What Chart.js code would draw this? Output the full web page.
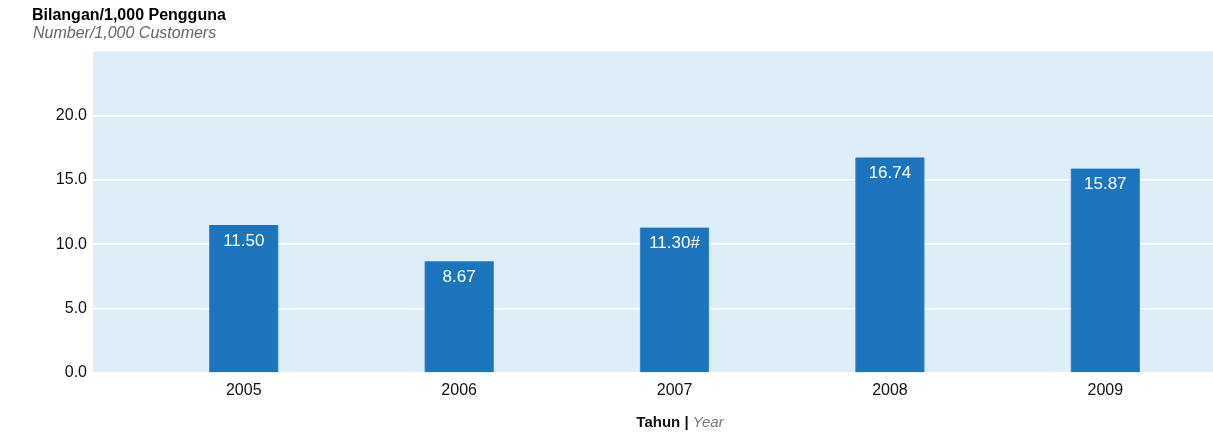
<!DOCTYPE html>
<html>
<head>
<meta charset="utf-8">
<script src="https://cdn.jsdelivr.net/npm/chart.js@4/dist/chart.umd.min.js"></script>
<style>
  html, body { margin: 0; padding: 0; background: #fff; }
  #wrap { width: 1213px; height: 432px; position: relative; }
</style>
</head>
<body>
<div id="wrap"><canvas id="chart"></canvas></div>
<script>
// ── DATA ────────────────────────────────────────────────────────────────
const years  = [2005, 2006, 2007, 2008, 2009];
const values = [11.50, 8.67, 11.30, 16.74, 15.87];
const notes  = ['', '', '#', '', ''];
const yTicks = [0, 5, 10, 15, 20];

const FONT = '"Liberation Sans", Arial, Helvetica, sans-serif';
const BAR  = '#1c75bc';
const BG   = '#ddeef8';

// fondo azul claro del área de trazado
const plotBg = {
  id: 'plotBg',
  beforeDraw(chart) {
    const { ctx, chartArea: a } = chart;
    ctx.save();
    ctx.fillStyle = BG;
    ctx.fillRect(a.left, a.top, a.right - a.left, a.bottom - a.top);
    ctx.restore();
  }
};

// valores dentro de cada barra + títulos
const labelsAndTitles = {
  id: 'labelsAndTitles',
  afterDatasetsDraw(chart) {
    const { ctx } = chart;
    const meta = chart.getDatasetMeta(0);
    ctx.save();
    ctx.fillStyle = '#fff';
    ctx.font = '17px ' + FONT;
    ctx.textAlign = 'center';
    ctx.textBaseline = 'middle';
    meta.data.forEach((bar, i) => {
      ctx.fillText(values[i].toFixed(2) + notes[i], bar.x, bar.y + 16);
    });
    ctx.restore();
  },
  afterDraw(chart) {
    const { ctx } = chart;
    ctx.save();
    ctx.textBaseline = 'middle';
    ctx.textAlign = 'left';
    ctx.fillStyle = '#000';
    ctx.font = 'bold 16px ' + FONT;
    ctx.fillText('Bilangan/1,000 Pengguna', 32, 16);
    ctx.fillStyle = '#666';
    ctx.font = 'italic 16px ' + FONT;
    ctx.fillText('Number/1,000 Customers', 33, 34);

    // título del eje X: "Tahun | Year"
    const cx = 680, cy = 423;
    ctx.font = 'bold 15px ' + FONT;
    const t1 = 'Tahun | ';
    const w1 = ctx.measureText(t1).width;
    ctx.font = 'italic 15px ' + FONT;
    const w2 = ctx.measureText('Year').width;
    const x = cx - (w1 + w2) / 2;
    ctx.fillStyle = '#111';
    ctx.font = 'bold 15px ' + FONT;
    ctx.fillText(t1, x, cy);
    ctx.fillStyle = '#777';
    ctx.font = 'italic 15px ' + FONT;
    ctx.fillText('Year', x + w1, cy);
    ctx.restore();
  }
};

new Chart(document.getElementById('chart'), {
  type: 'bar',
  data: {
    datasets: [{
      data: years.map((y, i) => ({ x: y, y: values[i] })),
      backgroundColor: BAR,
      borderColor: '#4a90cc',
      borderWidth: { left: 1, right: 1, top: 0, bottom: 0 },
      barThickness: 69,
    }]
  },
  options: {
    responsive: true,
    maintainAspectRatio: false,
    animation: false,
    layout: { padding: { left: 33, top: 51, right: 0, bottom: 0 } },
    plugins: {
      legend: { display: false },
      tooltip: { enabled: false },
    },
    scales: {
      x: {
        type: 'linear',
        offset: false,
        min: 2004.3,
        max: 2009.5,
        afterBuildTicks: s => { s.ticks = years.map(v => ({ value: v })); },
        afterFit: s => { s.height = 59; },
        grid: { display: false, drawTicks: false },
        border: { display: false },
        ticks: {
          color: '#111',
          font: { family: FONT, size: 16 },
          padding: 8,
          callback: v => String(v),
        },
      },
      y: {
        min: 0,
        max: 25,
        afterBuildTicks: s => { s.ticks = yTicks.concat([25]).map(v => ({ value: v })); },
        afterFit: s => { s.width = 60; },
        grid: { color: '#ffffff', lineWidth: 1.5, drawTicks: false },
        border: { display: false },
        ticks: {
          color: '#111',
          font: { family: FONT, size: 16 },
          padding: 6,
          callback: v => (v === 25 ? '' : v.toFixed(1)),
        },
      },
    },
  },
  plugins: [plotBg, labelsAndTitles],
});
</script>
</body>
</html>
